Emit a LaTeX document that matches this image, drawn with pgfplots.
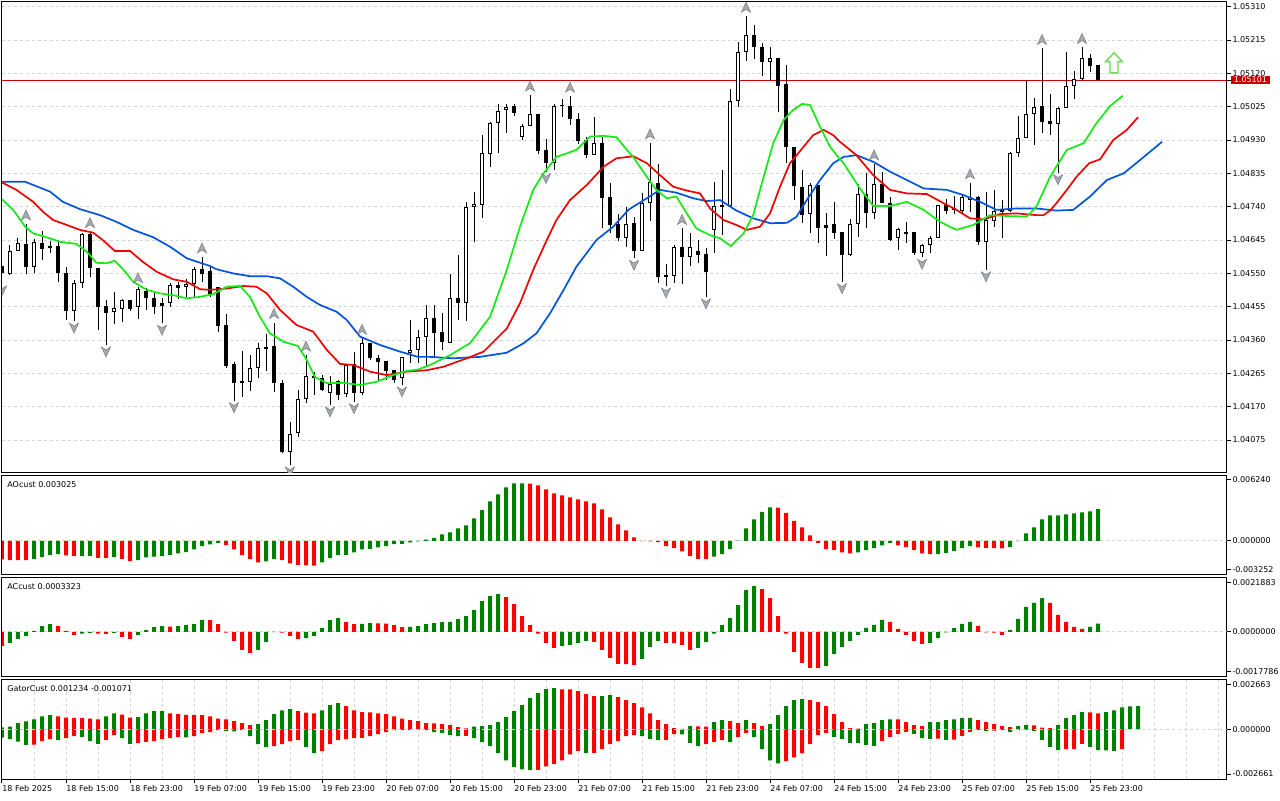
\documentclass[border=0pt]{standalone}
\usepackage{pgfplots}
\pgfplotsset{compat=1.18}
\usepackage{pgfplotstable}
\usepackage{fontspec}
\setmainfont{DejaVu Sans}
\definecolor{mtgreen}{RGB}{0,128,0}
\definecolor{mtred}{RGB}{255,0,0}
\definecolor{jawc}{RGB}{0,85,220}
\definecolor{teethc}{RGB}{240,0,0}
\definecolor{lipsc}{RGB}{20,235,20}
\definecolor{gridc}{RGB}{212,212,212}
\definecolor{pricec}{RGB}{200,0,0}
\definecolor{fracf}{RGB}{165,170,176}
\definecolor{fracd}{RGB}{120,125,132}
\definecolor{arrowc}{RGB}{110,215,90}

\pgfdeclareplotmark{fup}{%
  \pgfpathmoveto{\pgfqpoint{0pt}{7pt}}%
  \pgfpathlineto{\pgfqpoint{2.3pt}{2pt}}%
  \pgfpathlineto{\pgfqpoint{0pt}{3.4pt}}%
  \pgfpathlineto{\pgfqpoint{-2.3pt}{2pt}}%
  \pgfpathclose
  \pgfusepathqfillstroke}
\pgfdeclareplotmark{fdown}{%
  \pgfpathmoveto{\pgfqpoint{0pt}{-6pt}}%
  \pgfpathlineto{\pgfqpoint{2.3pt}{-1pt}}%
  \pgfpathlineto{\pgfqpoint{0pt}{-2.4pt}}%
  \pgfpathlineto{\pgfqpoint{-2.3pt}{-1pt}}%
  \pgfpathclose
  \pgfusepathqfillstroke}
\pgfdeclareplotmark{bigup}{%
  \pgfpathmoveto{\pgfqpoint{0pt}{5pt}}%
  \pgfpathlineto{\pgfqpoint{4.2pt}{0.6pt}}%
  \pgfpathlineto{\pgfqpoint{2pt}{0.6pt}}%
  \pgfpathlineto{\pgfqpoint{2pt}{-5pt}}%
  \pgfpathlineto{\pgfqpoint{-2pt}{-5pt}}%
  \pgfpathlineto{\pgfqpoint{-2pt}{0.6pt}}%
  \pgfpathlineto{\pgfqpoint{-4.2pt}{0.6pt}}%
  \pgfpathclose
  \pgfusepathqfillstroke}

\pgfplotstableread{
i o h l c
0 1.04571 1.04582 1.04520 1.04551
1 1.04548 1.04631 1.04545 1.04615
2 1.04613 1.04652 1.04613 1.04636
3 1.04634 1.04691 1.04548 1.04568
4 1.04568 1.04648 1.04552 1.04639
5 1.04636 1.04671 1.04588 1.04619
6 1.04622 1.04643 1.04609 1.04628
7 1.04628 1.04645 1.04525 1.04551
8 1.04551 1.04568 1.04417 1.04444
9 1.04444 1.04531 1.04414 1.04522
10 1.04522 1.04665 1.04509 1.04662
11 1.04662 1.04669 1.04539 1.04565
12 1.04565 1.04565 1.04389 1.04455
13 1.04457 1.04474 1.04346 1.04438
14 1.04440 1.04497 1.04406 1.04451
15 1.04448 1.04477 1.04411 1.04474
16 1.04474 1.04474 1.04444 1.04448
17 1.04455 1.04512 1.04420 1.04505
18 1.04500 1.04508 1.04446 1.04480
19 1.04481 1.04494 1.04434 1.04455
20 1.04458 1.04481 1.04408 1.04465
21 1.04465 1.04522 1.04455 1.04517
22 1.04517 1.04526 1.04476 1.04509
23 1.04512 1.04534 1.04483 1.04520
24 1.04520 1.04568 1.04483 1.04562
25 1.04562 1.04597 1.04526 1.04547
26 1.04557 1.04568 1.04483 1.04488
27 1.04512 1.04512 1.04384 1.04401
28 1.04403 1.04434 1.04279 1.04286
29 1.04291 1.04298 1.04187 1.04237
30 1.04237 1.04329 1.04198 1.04243
31 1.04241 1.04317 1.04216 1.04279
32 1.04279 1.04352 1.04251 1.04336
33 1.04341 1.04377 1.04272 1.04335
34 1.04343 1.04410 1.04213 1.04238
35 1.04237 1.04246 1.04039 1.04042
36 1.04042 1.04127 1.04004 1.04092
37 1.04094 1.04218 1.04083 1.04191
38 1.04191 1.04317 1.04180 1.04257
39 1.04257 1.04269 1.04203 1.04252
40 1.04251 1.04260 1.04216 1.04218
41 1.04208 1.04257 1.04175 1.04235
42 1.04244 1.04246 1.04189 1.04203
43 1.04205 1.04289 1.04198 1.04289
44 1.04291 1.04325 1.04184 1.04210
45 1.04210 1.04365 1.04203 1.04351
46 1.04352 1.04352 1.04303 1.04308
47 1.04310 1.04317 1.04246 1.04298
48 1.04300 1.04300 1.04246 1.04272
49 1.04274 1.04274 1.04237 1.04246
50 1.04251 1.04312 1.04232 1.04312
51 1.04324 1.04417 1.04294 1.04332
52 1.04332 1.04389 1.04294 1.04369
53 1.04369 1.04460 1.04284 1.04422
54 1.04422 1.04460 1.04312 1.04381
55 1.04382 1.04436 1.04332 1.04355
56 1.04352 1.04548 1.04351 1.04479
57 1.04479 1.04602 1.04417 1.04465
58 1.04465 1.04754 1.04415 1.04740
59 1.04738 1.04783 1.04640 1.04747
60 1.04745 1.04944 1.04709 1.04892
61 1.04889 1.04982 1.04854 1.04978
62 1.04978 1.05033 1.04892 1.05014
63 1.05015 1.05033 1.04951 1.05025
64 1.05027 1.05032 1.04999 1.05008
65 1.04938 1.04976 1.04930 1.04970
66 1.04970 1.05058 1.04970 1.05004
67 1.05004 1.05004 1.04890 1.04900
68 1.04902 1.04932 1.04840 1.04865
69 1.04865 1.05033 1.04845 1.05027
70 1.05027 1.05047 1.04996 1.05026
71 1.05027 1.05055 1.04973 1.04989
72 1.04989 1.05006 1.04919 1.04928
73 1.04930 1.04939 1.04878 1.04887
74 1.04887 1.04996 1.04887 1.04921
75 1.04921 1.04939 1.04678 1.04766
76 1.04768 1.04808 1.04664 1.04688
77 1.04691 1.04719 1.04643 1.04650
78 1.04650 1.04740 1.04626 1.04691
79 1.04693 1.04711 1.04593 1.04615
80 1.04615 1.04778 1.04615 1.04750
81 1.04750 1.04922 1.04700 1.04811
82 1.04807 1.04862 1.04523 1.04539
83 1.04539 1.04576 1.04514 1.04545
84 1.04543 1.04631 1.04522 1.04626
85 1.04626 1.04678 1.04521 1.04597
86 1.04597 1.04664 1.04571 1.04624
87 1.04614 1.04645 1.04579 1.04602
88 1.04605 1.04621 1.04483 1.04555
89 1.04674 1.04811 1.04609 1.04743
90 1.04745 1.04845 1.04659 1.04738
91 1.04742 1.05075 1.04742 1.05041
92 1.05041 1.05210 1.05023 1.05180
93 1.05180 1.05283 1.05156 1.05229
94 1.05229 1.05258 1.05160 1.05194
95 1.05194 1.05206 1.05112 1.05153
96 1.05153 1.05196 1.05101 1.05163
97 1.05163 1.05163 1.05011 1.05084
98 1.05090 1.05144 1.04865 1.04909
99 1.04911 1.04911 1.04759 1.04799
100 1.04795 1.04846 1.04693 1.04716
101 1.04718 1.04807 1.04666 1.04802
102 1.04802 1.04802 1.04637 1.04680
103 1.04680 1.04723 1.04599 1.04687
104 1.04691 1.04754 1.04647 1.04666
105 1.04668 1.04668 1.04526 1.04602
106 1.04602 1.04704 1.04599 1.04690
107 1.04690 1.04805 1.04654 1.04776
108 1.04776 1.04837 1.04678 1.04723
109 1.04721 1.04862 1.04704 1.04805
110 1.04805 1.04840 1.04750 1.04750
111 1.04752 1.04769 1.04643 1.04645
112 1.04650 1.04678 1.04618 1.04676
113 1.04667 1.04697 1.04636 1.04663
114 1.04668 1.04668 1.04602 1.04609
115 1.04609 1.04634 1.04596 1.04630
116 1.04630 1.04657 1.04607 1.04650
117 1.04650 1.04745 1.04650 1.04745
118 1.04745 1.04761 1.04719 1.04729
119 1.04736 1.04770 1.04719 1.04731
120 1.04729 1.04773 1.04719 1.04767
121 1.04759 1.04808 1.04725 1.04768
122 1.04767 1.04770 1.04631 1.04640
123 1.04640 1.04783 1.04560 1.04702
124 1.04700 1.04788 1.04683 1.04729
125 1.04731 1.04759 1.04651 1.04726
126 1.04729 1.04897 1.04725 1.04894
127 1.04892 1.04998 1.04882 1.04935
128 1.04935 1.05099 1.04935 1.05004
129 1.05004 1.05049 1.04916 1.05023
130 1.05027 1.05191 1.04949 1.04982
131 1.04984 1.05061 1.04944 1.04975
132 1.04975 1.05023 1.04837 1.05020
133 1.05020 1.05182 1.05020 1.05084
134 1.05084 1.05128 1.05046 1.05103
135 1.05103 1.05194 1.05101 1.05163
136 1.05163 1.05175 1.05125 1.05141
137 1.05143 1.05143 1.05101 1.05101
}\candles

\pgfplotstableread{
x y
0 1.04811
2.9 1.04811
3.9 1.04802
6 1.04783
7.6 1.04754
9.75 1.04733
12.25 1.04716
14.3 1.04697
16.4 1.04674
18.9 1.04653
21 1.04626
23.1 1.04593
26 1.04571
26.8 1.04562
28.9 1.04550
31 1.04542
33.1 1.04542
34.75 1.04536
36.4 1.04512
38.1 1.04483
39.75 1.04460
41.8 1.04441
43.1 1.04417
44.75 1.04370
47.25 1.04346
49.75 1.04327
52 1.04312
53.5 1.04312
56.4 1.04308
59.75 1.04312
63.1 1.04324
65.2 1.04351
66.8 1.04379
68.5 1.04436
70.2 1.04503
71.8 1.04569
74.3 1.04645
76.4 1.04683
78.3 1.04731
78.9 1.04740
80.6 1.04764
82.25 1.04788
84.3 1.04780
86.4 1.04764
88.1 1.04756
89.75 1.04759
91.8 1.04729
93.9 1.04707
96 1.04693
98.1 1.04694
99.3 1.04711
100.6 1.04759
102.25 1.04816
103.9 1.04864
105.2 1.04882
106.8 1.04887
108.9 1.04868
111 1.04840
113.1 1.04816
115.2 1.04792
118.1 1.04788
120.2 1.04773
122.25 1.04754
124.3 1.04731
126.8 1.04735
129.3 1.04735
131.8 1.04729
133.9 1.04731
136 1.04769
138.1 1.04816
140.2 1.04835
142.25 1.04873
145 1.04925
}\jaw

\pgfplotstableread{
x y
0 1.04809
1.8 1.04788
3.9 1.04754
5.1 1.04726
6.4 1.04702
8.1 1.04688
9.75 1.04674
11.4 1.04666
12.6 1.04645
14.1 1.04614
16 1.04614
17.6 1.04583
19.3 1.04555
21.4 1.04533
23.1 1.04526
24.75 1.04505
26 1.04503
28.1 1.04507
30.2 1.04514
31.8 1.04512
33.1 1.04493
34.75 1.04446
36.8 1.04403
38.9 1.04384
40.6 1.04332
42.25 1.04292
43.9 1.04289
46 1.04270
48.1 1.04260
50.6 1.04270
53.1 1.04274
55.2 1.04284
58.1 1.04308
60.2 1.04327
63.1 1.04393
64.75 1.04465
66.4 1.04560
68.1 1.04645
69.3 1.04702
71 1.04759
73.1 1.04802
75.2 1.04854
76.8 1.04878
78.3 1.04882
78.9 1.04884
80.6 1.04864
82.25 1.04830
83.9 1.04797
85.6 1.04786
87.25 1.04778
88.5 1.04735
90.2 1.04702
91.8 1.04688
93.1 1.04674
94.75 1.04683
96 1.04721
97.25 1.04797
98.5 1.04864
100.2 1.04911
101.4 1.04944
102.7 1.04959
103.9 1.04944
104.75 1.04925
106.8 1.04887
108.9 1.04830
111 1.04788
113.1 1.04778
115.6 1.04776
117.7 1.04750
119.3 1.04731
121 1.04707
122.7 1.04704
124.75 1.04719
126.8 1.04721
129.3 1.04716
130.2 1.04716
131 1.04729
131.8 1.04750
133.1 1.04788
134.3 1.04825
135.9 1.04864
137.25 1.04875
138.9 1.04930
140.6 1.04959
142 1.04995
}\teeth

\pgfplotstableread{
x y
0 1.04761
1.4 1.04731
2.9 1.04683
3.9 1.04664
5.6 1.04653
7.25 1.04640
9.3 1.04634
10.6 1.04612
11.8 1.04580
13.1 1.04579
14.1 1.04586
15.2 1.04560
16.4 1.04526
18.1 1.04503
19.75 1.04493
21.4 1.04488
23.1 1.04479
24.75 1.04483
26.4 1.04491
28.1 1.04512
29.75 1.04514
31 1.04483
32.25 1.04426
33.5 1.04379
35.2 1.04355
37 1.04343
38.1 1.04303
39.1 1.04255
40.6 1.04237
42.7 1.04238
44.75 1.04232
46.8 1.04241
48.9 1.04260
50.6 1.04272
52 1.04276
53.5 1.04289
56 1.04317
58.5 1.04351
61 1.04426
63.1 1.04560
64.75 1.04683
66.4 1.04788
67.7 1.04835
69.3 1.04882
70.6 1.04892
71.8 1.04902
73.5 1.04940
75.2 1.04942
76.8 1.04938
78.3 1.04897
78.9 1.04882
80.6 1.04825
81.8 1.04788
83.1 1.04764
84.3 1.04769
85.6 1.04721
86.8 1.04678
88.5 1.04659
89.75 1.04650
91.1 1.04628
92.7 1.04664
93.9 1.04716
95.2 1.04825
96.4 1.04921
97.7 1.04987
98.9 1.05016
100 1.05033
101 1.05030
102.25 1.04968
103.5 1.04911
104.5 1.04882
105.2 1.04864
107.25 1.04792
108.9 1.04742
111 1.04742
113.1 1.04754
115.2 1.04731
117.25 1.04697
119.3 1.04674
121.4 1.04688
123.5 1.04716
126 1.04713
128.1 1.04712
129.3 1.04740
131 1.04825
133.1 1.04902
135.2 1.04921
136.8 1.04978
138.5 1.05027
140.1 1.05056
}\lips

\pgfplotstableread{
i v g
0 -0.00179 0
1 -0.00185 0
2 -0.00185 0
3 -0.00185 0
4 -0.00176 1
5 -0.00157 1
6 -0.00137 1
7 -0.00128 1
8 -0.00141 0
9 -0.00147 0
10 -0.00146 1
11 -0.00145 1
12 -0.00163 0
13 -0.00166 0
14 -0.00157 1
15 -0.00173 0
16 -0.00195 0
17 -0.00185 1
18 -0.00160 1
19 -0.00153 1
20 -0.00147 1
21 -0.00134 1
22 -0.00121 1
23 -0.00109 1
24 -0.00083 1
25 -0.00051 1
26 -0.00035 1
27 -0.00019 1
28 -0.00042 0
29 -0.00083 0
30 -0.00137 0
31 -0.00176 0
32 -0.00208 0
33 -0.00198 1
34 -0.00176 1
35 -0.00185 0
36 -0.00217 0
37 -0.00230 0
38 -0.00236 0
39 -0.00237 0
40 -0.00208 1
41 -0.00166 1
42 -0.00137 1
43 -0.00134 1
44 -0.00112 1
45 -0.00083 1
46 -0.00077 1
47 -0.00064 1
48 -0.00051 1
49 -0.00032 1
50 -0.00029 1
51 -0.00016 1
52 -0.00005 1
53 0.00010 1
54 0.00029 1
55 0.00061 1
56 0.00080 1
57 0.00118 1
58 0.00147 1
59 0.00214 1
60 0.00294 1
61 0.00377 1
62 0.00444 1
63 0.00511 1
64 0.00550 1
65 0.00551 1
66 0.00549 0
67 0.00531 0
68 0.00492 0
69 0.00454 0
70 0.00435 0
71 0.00415 0
72 0.00396 0
73 0.00377 0
74 0.00358 0
75 0.00300 0
76 0.00224 0
77 0.00157 0
78 0.00099 0
79 0.00032 0
80 -0.00003 0
81 -0.00006 0
82 -0.00013 0
83 -0.00051 0
84 -0.00070 0
85 -0.00102 0
86 -0.00147 0
87 -0.00173 0
88 -0.00176 0
89 -0.00153 1
90 -0.00128 1
91 -0.00080 1
92 0.00002 1
93 0.00118 1
94 0.00205 1
95 0.00278 1
96 0.00320 1
97 0.00319 0
98 0.00268 0
99 0.00192 0
100 0.00128 0
101 0.00051 0
102 -0.00019 0
103 -0.00080 0
104 -0.00089 0
105 -0.00112 0
106 -0.00121 0
107 -0.00112 1
108 -0.00089 1
109 -0.00070 1
110 -0.00045 1
111 -0.00019 1
112 -0.00045 0
113 -0.00061 0
114 -0.00089 0
115 -0.00121 0
116 -0.00128 0
117 -0.00127 1
118 -0.00118 1
119 -0.00099 1
120 -0.00070 1
121 -0.00051 1
122 -0.00064 0
123 -0.00070 0
124 -0.00071 0
125 -0.00072 0
126 -0.00061 1
127 -0.00003 1
128 0.00070 1
129 0.00128 1
130 0.00205 1
131 0.00243 1
132 0.00244 1
133 0.00252 1
134 0.00262 1
135 0.00272 1
136 0.00281 1
137 0.003025 1
}\aotab

\pgfplotstableread{
i v g
0 -0.00056 0
1 -0.00044 1
2 -0.00028 1
3 -0.00016 1
4 0.00004 1
5 0.00023 1
6 0.00031 1
7 0.00023 0
8 0.00003 0
9 -0.00012 0
10 -0.00007 1
11 -0.00004 1
12 -0.00007 0
13 -0.00008 0
14 -0.00004 1
15 -0.00020 0
16 -0.00028 0
17 -0.00013 1
18 0.00007 1
19 0.00019 1
20 0.00023 1
21 0.00021 0
22 0.00023 1
23 0.00027 1
24 0.00031 1
25 0.00048 1
26 0.00047 0
27 0.00031 0
28 -0.00003 0
29 -0.00036 0
30 -0.00072 0
31 -0.00084 0
32 -0.00072 1
33 -0.00040 1
34 -0.00001 1
35 -0.00003 0
36 -0.00016 0
37 -0.00028 0
38 -0.00025 1
39 -0.00016 1
40 0.00015 1
41 0.00047 1
42 0.00055 1
43 0.00039 0
44 0.00031 0
45 0.00032 1
46 0.00035 1
47 0.00034 0
48 0.00033 0
49 0.00027 0
50 0.00019 0
51 0.00020 1
52 0.00023 1
53 0.00031 1
54 0.00035 1
55 0.00039 1
56 0.00040 1
57 0.00051 1
58 0.00063 1
59 0.00087 1
60 0.00123 1
61 0.00143 1
62 0.00151 1
63 0.00139 0
64 0.00111 0
65 0.00063 0
66 0.00027 0
67 -0.00007 0
68 -0.00044 0
69 -0.00064 0
70 -0.00056 1
71 -0.00052 1
72 -0.00044 1
73 -0.00036 1
74 -0.00040 0
75 -0.00072 0
76 -0.00104 0
77 -0.00128 0
78 -0.00129 0
79 -0.00132 0
80 -0.00108 1
81 -0.00060 1
82 -0.00036 1
83 -0.00044 0
84 -0.00045 0
85 -0.00052 0
86 -0.00072 0
87 -0.00064 1
88 -0.00040 1
89 -0.00007 1
90 0.00027 1
91 0.00055 1
92 0.00107 1
93 0.00167 1
94 0.00183 1
95 0.00171 0
96 0.00135 0
97 0.00063 0
98 -0.00007 0
99 -0.00080 0
100 -0.00124 0
101 -0.00144 0
102 -0.00145 0
103 -0.00136 1
104 -0.00088 1
105 -0.00060 1
106 -0.00036 1
107 -0.00012 1
108 0.00016 1
109 0.00028 1
110 0.00048 1
111 0.00040 0
112 0.00012 0
113 -0.00012 0
114 -0.00036 0
115 -0.00048 0
116 -0.00044 1
117 -0.00024 1
118 -0.00002 1
119 0.00015 1
120 0.00032 1
121 0.00040 1
122 0.00024 0
123 -0.00002 0
124 -0.00003 0
125 -0.00012 0
126 0.00008 1
127 0.00052 1
128 0.00100 1
129 0.00116 1
130 0.00135 1
131 0.00116 0
132 0.00068 0
133 0.00040 0
134 0.00020 0
135 0.00012 0
136 0.00020 1
137 0.000332 1
}\actab

\pgfplotstableread{
i up ug lo lg
0 0.00010 1 -0.00045 1
1 0.00014 1 -0.00053 1
2 0.00032 1 -0.00066 1
3 0.00041 1 -0.00084 1
4 0.00053 1 -0.00083 0
5 0.00068 1 -0.00064 0
6 0.00075 1 -0.00053 0
7 0.00068 0 -0.00059 1
8 0.00062 0 -0.00048 0
9 0.00061 0 -0.00037 0
10 0.00060 0 -0.00043 1
11 0.00057 0 -0.00064 1
12 0.00053 0 -0.00078 1
13 0.00069 1 -0.00059 0
14 0.00085 1 -0.00032 0
15 0.00078 0 -0.00048 1
16 0.00062 0 -0.00078 1
17 0.00064 1 -0.00073 0
18 0.00085 1 -0.00068 0
19 0.00096 1 -0.00064 0
20 0.00097 1 -0.00053 0
21 0.00085 0 -0.00048 0
22 0.00080 0 -0.00043 0
23 0.00077 0 -0.00044 1
24 0.00076 0 -0.00037 0
25 0.00075 0 -0.00021 0
26 0.00068 0 -0.00016 0
27 0.00057 0 -0.00005 0
28 0.00053 0 -0.00011 1
29 0.00043 0 -0.00012 1
30 0.00032 0 -0.00004 0
31 0.00021 0 -0.00037 1
32 0.00027 1 -0.00080 1
33 0.00048 1 -0.00096 1
34 0.00080 1 -0.00091 0
35 0.00101 1 -0.00080 0
36 0.00107 1 -0.00064 0
37 0.00096 0 -0.00059 0
38 0.00089 0 -0.00096 1
39 0.00085 0 -0.00128 1
40 0.00101 1 -0.00117 0
41 0.00128 1 -0.00080 0
42 0.00139 1 -0.00059 0
43 0.00123 0 -0.00053 0
44 0.00101 0 -0.00048 0
45 0.00091 0 -0.00047 0
46 0.00090 0 -0.00037 0
47 0.00085 0 -0.00027 0
48 0.00080 0 -0.00016 0
49 0.00069 0 -0.00005 0
50 0.00057 0 -0.00005 0
51 0.00048 0 -0.00004 0
52 0.00043 0 -0.00002 0
53 0.00032 0 -0.00005 1
54 0.00031 0 -0.00016 1
55 0.00027 0 -0.00021 1
56 0.00021 0 -0.00032 1
57 0.00011 0 -0.00037 1
58 0.00004 0 -0.00036 0
59 0.00014 1 -0.00048 1
60 0.00016 1 -0.00069 1
61 0.00021 1 -0.00091 1
62 0.00037 1 -0.00128 1
63 0.00064 1 -0.00166 1
64 0.00096 1 -0.00203 1
65 0.00128 1 -0.00215 1
66 0.00166 1 -0.00219 1
67 0.00192 1 -0.00218 0
68 0.00214 1 -0.00198 0
69 0.00219 1 -0.00187 0
70 0.00213 0 -0.00166 0
71 0.00212 0 -0.00134 0
72 0.00203 0 -0.00116 0
73 0.00187 0 -0.00128 1
74 0.00176 0 -0.00127 0
75 0.00177 1 -0.00107 0
76 0.00182 1 -0.00080 0
77 0.00171 0 -0.00064 0
78 0.00155 0 -0.00037 0
79 0.00139 0 -0.00032 0
80 0.00117 0 -0.00037 1
81 0.00085 0 -0.00053 1
82 0.00048 0 -0.00059 1
83 0.00027 0 -0.00058 0
84 0.00005 0 -0.00027 0
85 0.00002 0 -0.00028 1
86 0.00016 1 -0.00073 1
87 0.00015 0 -0.00091 1
88 0.00014 0 -0.00080 0
89 0.00037 1 -0.00069 0
90 0.00048 1 -0.00059 0
91 0.00043 0 -0.00069 1
92 0.00032 0 -0.00043 0
93 0.00048 1 -0.00021 0
94 0.00032 0 -0.00043 1
95 0.00016 0 -0.00107 1
96 0.00027 1 -0.00166 1
97 0.00075 1 -0.00182 1
98 0.00123 1 -0.00171 0
99 0.00155 1 -0.00150 0
100 0.00160 1 -0.00128 0
101 0.00155 0 -0.00080 0
102 0.00144 0 -0.00032 0
103 0.00123 0 -0.00020 0
104 0.00080 0 -0.00041 1
105 0.00037 0 -0.00053 1
106 0.00005 0 -0.00073 1
107 0.00003 0 -0.00074 1
108 0.00027 1 -0.00084 1
109 0.00032 1 -0.00089 1
110 0.00048 1 -0.00062 0
111 0.00053 1 -0.00041 0
112 0.00052 0 -0.00025 0
113 0.00037 0 -0.00014 0
114 0.00021 0 -0.00025 1
115 0.00016 0 -0.00048 1
116 0.00037 1 -0.00052 1
117 0.00038 1 -0.00051 0
118 0.00048 1 -0.00057 1
119 0.00053 1 -0.00056 0
120 0.00059 1 -0.00036 0
121 0.00060 1 -0.00014 0
122 0.00048 0 -0.00004 0
123 0.00037 0 -0.00009 1
124 0.00027 0 -0.00008 0
125 0.00016 0 -0.00004 0
126 0.00011 0 -0.00014 1
127 0.00016 1 -0.00004 0
128 0.00021 1 -0.00002 0
129 0.00020 0 -0.00009 1
130 0.00008 0 -0.00057 1
131 0.00005 0 -0.00094 1
132 0.00021 1 -0.00112 1
133 0.00059 1 -0.00107 0
134 0.00075 1 -0.00106 0
135 0.00091 1 -0.00078 0
136 0.00090 0 -0.00094 1
137 0.00085 0 -0.00112 1
138 0.00091 1 -0.00113 1
139 0.00101 1 -0.00116 1
140 0.00117 1 -0.001071 0
141 0.00122 1 0 0
142 0.001234 1 0 0
}\gatortab

\pgfplotsset{
  mtbase/.style={
    scale only axis, width=612.25pt, xmin=0, xmax=153.06,
    scaled ticks=false,
    axis line style={line width=0.5pt, black},
    tick style={black, line width=0.5pt},
    major tick length=2pt, minor tick length=0pt,
    tick align=outside,
    ytick pos=right, yticklabel pos=right, xtick pos=bottom,
    xtick=\empty,
    minor xtick={0,4,...,152},
    xminorgrids,
    minor grid style={gridc, line width=0.5pt, dash pattern=on 1.5pt off 1.5pt},
    major grid style={gridc, line width=0.5pt, dash pattern=on 1.5pt off 1.5pt},
    tick label style={font=\fontsize{4}{4.8}\selectfont},
    yticklabel style={anchor=west, inner sep=0pt, xshift=0.8pt},
    clip marker paths=true,
  },
  candle/.style={mark=none, draw=none},
}
\newcommand{\ttl}{\fontsize{4}{4.8}\selectfont}

\begin{document}
\begin{tikzpicture}
\useasboundingbox (0,0) rectangle (640pt,400pt);
\fill[white] (0,0) rectangle (640pt,400pt);

% ---------------- main price chart ----------------
\begin{axis}[mtbase, at={(1pt,163.75pt)}, anchor=south west, height=235.4pt,
  ymin=1.039825, ymax=1.053243,
  ytick={1.04075,1.04170,1.04265,1.04360,1.04455,1.04550,1.04645,1.04740,1.04835,1.04930,1.05025,1.05120,1.05215,1.05310},
  yticklabels={1.04075,1.04170,1.04265,1.04360,1.04455,1.04550,1.04645,1.04740,1.04835,1.04930,1.05025,1.05120,1.05215,1.05310},
  ymajorgrids,
  extra y ticks={1.05101}, extra y tick labels={1.05101},
  extra y tick style={grid=none, yticklabel style={fill=pricec, text=white, inner xsep=1.5pt, inner ysep=0.6pt, xshift=-0.8pt}},
]
\addplot[pricec, line width=0.5pt] coordinates {(0,1.05101) (153.06,1.05101)};
% wicks
\addplot[candle, error bars/.cd, y dir=plus, y explicit, error mark=none,
  error bar style={draw=black, line width=0.5pt}]
  table[x=i, y=l, y error expr={\thisrow{h}-\thisrow{l}}] {\candles};
% bullish bodies (outline)
\addplot[candle, error bars/.cd, y dir=plus, y explicit, error mark=none,
  error bar style={draw=black, line width=2.25pt}]
  table[x=i, y expr={\thisrow{c}<\thisrow{o} ? nan : \thisrow{o}},
        y error expr={max(\thisrow{c}-\thisrow{o},0.0000285)}] {\candles};
% bullish bodies (hollow)
\addplot[candle, error bars/.cd, y dir=plus, y explicit, error mark=none,
  error bar style={draw=white, line width=1.25pt}]
  table[x=i, y expr={\thisrow{c}-\thisrow{o}>0.00007 ? \thisrow{o}+0.0000285 : nan},
        y error expr={\thisrow{c}-\thisrow{o}-0.000057}] {\candles};
% bearish bodies
\addplot[candle, error bars/.cd, y dir=plus, y explicit, error mark=none,
  error bar style={draw=black, line width=2.25pt}]
  table[x=i, y expr={\thisrow{c}<\thisrow{o} ? \thisrow{c} : nan},
        y error expr={max(\thisrow{o}-\thisrow{c},0.0000285)}] {\candles};
% alligator
\addplot[jawc, line width=0.85pt] table[x=x,y=y] {\jaw};
\addplot[teethc, line width=0.85pt] table[x=x,y=y] {\teeth};
\addplot[lipsc, line width=0.85pt] table[x=x,y=y] {\lips};
% fractals
\addplot[only marks, mark=fup, mark options={fill=fracf, draw=fracd, line width=0.25pt}]
  coordinates {(3,1.04691) (11,1.04669) (17,1.04512) (25,1.04597) (34,1.04410) (38,1.04317) (45,1.04365) (66,1.05058) (71,1.05055) (81,1.04922) (85,1.04678) (93,1.05283) (109,1.04862) (121,1.04808) (130,1.05191) (135,1.05194)};
\addplot[only marks, mark=fdown, mark options={fill=fracf, draw=fracd, line width=0.25pt}]
  coordinates {(0,1.04520) (9,1.04414) (13,1.04346) (20,1.04408) (29,1.04187) (36,1.04004) (41,1.04175) (44,1.04184) (50,1.04232) (68,1.04840) (79,1.04593) (83,1.04514) (88,1.04483) (105,1.04526) (115,1.04596) (123,1.04560) (132,1.04837)};
% signal arrow
\addplot[only marks, mark=bigup, mark options={fill=white, draw=arrowc, line width=0.7pt}]
  coordinates {(139,1.05150)};
\end{axis}

% ---------------- AO ----------------
\begin{axis}[mtbase, at={(1pt,112.65pt)}, anchor=south west, height=49.5pt,
  ymin=-0.003252, ymax=0.006240,
  ytick={-0.002773,0,0.005828}, yticklabels={-0.003252,0.000000,0.006240}]
\addplot[gridc, line width=0.5pt, dash pattern=on 1.5pt off 1.5pt] coordinates {(0,0) (153.06,0)};
\addplot[ybar, bar width=0.5, bar shift=0pt, fill=mtgreen, draw=none]
  table[x=i, y expr={\thisrow{g}>0 ? \thisrow{v} : nan}] {\aotab};
\addplot[ybar, bar width=0.5, bar shift=0pt, fill=mtred, draw=none]
  table[x=i, y expr={\thisrow{g}>0 ? nan : \thisrow{v}}] {\aotab};
\node[anchor=west, inner sep=0pt, font=\ttl, xshift=2.5pt, yshift=-4.5pt] at (rel axis cs:0,1) {AOcust 0.003025};
\end{axis}

% ---------------- AC ----------------
\begin{axis}[mtbase, at={(1pt,61.85pt)}, anchor=south west, height=49.5pt,
  ymin=-0.0017786, ymax=0.0021883,
  ytick={-0.001594,0,0.001988}, yticklabels={-0.0017786,0.0000000,0.0021883}]
\addplot[gridc, line width=0.5pt, dash pattern=on 1.5pt off 1.5pt] coordinates {(0,0) (153.06,0)};
\addplot[ybar, bar width=0.5, bar shift=0pt, fill=mtgreen, draw=none]
  table[x=i, y expr={\thisrow{g}>0 ? \thisrow{v} : nan}] {\actab};
\addplot[ybar, bar width=0.5, bar shift=0pt, fill=mtred, draw=none]
  table[x=i, y expr={\thisrow{g}>0 ? nan : \thisrow{v}}] {\actab};
\node[anchor=west, inner sep=0pt, font=\ttl, xshift=2.5pt, yshift=-4.5pt] at (rel axis cs:0,1) {ACcust 0.0003323};
\end{axis}

% ---------------- Gator ----------------
\begin{axis}[mtbase, at={(1pt,10.5pt)}, anchor=south west, height=49.85pt,
  ymin=-0.002661, ymax=0.002663,
  ytick={-0.002394,0,0.002396}, yticklabels={-0.002661,0.000000,0.002663},
  xtick={0,8,16,24,32,40,48,56,64,72,80,88,96,104,112,120,128,136},
  xticklabels={18 Feb 2025,18 Feb 15:00,18 Feb 23:00,19 Feb 07:00,19 Feb 15:00,19 Feb 23:00,20 Feb 07:00,20 Feb 15:00,20 Feb 23:00,21 Feb 07:00,21 Feb 15:00,21 Feb 23:00,24 Feb 07:00,24 Feb 15:00,24 Feb 23:00,25 Feb 07:00,25 Feb 15:00,25 Feb 23:00},
  xticklabel style={anchor=north west, inner sep=0pt, yshift=-1pt},
  xmajorgrids,
  minor xtick={4,12,20,28,36,44,52,60,68,76,84,92,100,108,116,124,132,140,144,148,152}]
\addplot[ybar, bar width=0.5, bar shift=0pt, fill=mtgreen, draw=none]
  table[x=i, y expr={\thisrow{ug}>0 ? \thisrow{up} : nan}] {\gatortab};
\addplot[ybar, bar width=0.5, bar shift=0pt, fill=mtred, draw=none]
  table[x=i, y expr={\thisrow{ug}>0 ? nan : \thisrow{up}}] {\gatortab};
\addplot[ybar, bar width=0.5, bar shift=0pt, fill=mtgreen, draw=none]
  table[x=i, y expr={\thisrow{lg}>0 ? \thisrow{lo} : nan}] {\gatortab};
\addplot[ybar, bar width=0.5, bar shift=0pt, fill=mtred, draw=none]
  table[x=i, y expr={\thisrow{lg}>0 ? nan : \thisrow{lo}}] {\gatortab};
\addplot[gridc, line width=0.5pt, dash pattern=on 1.5pt off 1.5pt] coordinates {(0,0) (153.06,0)};
\node[anchor=west, inner sep=0pt, font=\ttl, xshift=2.5pt, yshift=-4.5pt] at (rel axis cs:0,1) {GatorCust 0.001234 -0.001071};
\end{axis}
\end{tikzpicture}
\end{document}
